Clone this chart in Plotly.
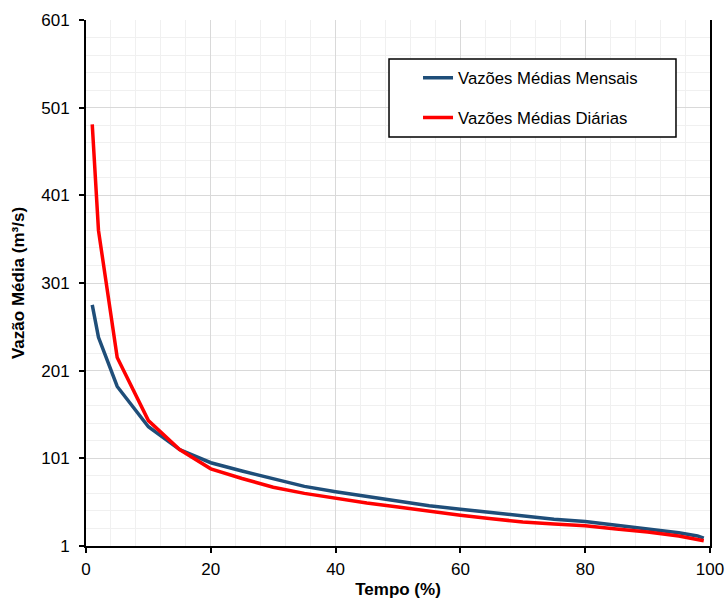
import plotly.graph_objects as go

# Curvas de permanência: tempo (%) x vazão média (m³/s)
tempo = [1, 2, 5, 10, 15, 20, 25, 30, 35, 40, 45, 50, 55, 60, 65, 70, 75, 80, 85, 90, 95, 98, 99]
vazao_mensal = [276, 239, 183, 137, 111, 96, 86.5, 78, 69, 63, 57.5, 52, 47, 43, 39, 35, 31.5, 29, 25, 21, 16, 12.5, 10]
vazao_diaria = [482, 361, 216, 144, 111, 89, 78, 68, 61, 55, 50, 45.5, 40.5, 36, 32, 28.5, 26, 24, 20.5, 17, 12.5, 9, 7]

y_ticks = [1, 101, 201, 301, 401, 501, 601]
x_ticks = [0, 20, 40, 60, 80, 100]

FONT = "Liberation Sans, Arial, sans-serif"

fig = go.Figure()
fig.add_trace(go.Scatter(
    x=tempo, y=vazao_mensal, mode="lines", name="Vazões Médias Mensais",
    line=dict(color="#1F4E79", width=3.5), legendgroup="m",
))
fig.add_trace(go.Scatter(
    x=tempo, y=vazao_diaria, mode="lines", name="Vazões Médias Diárias",
    line=dict(color="#FF0000", width=3.5), legendgroup="d",
))

# legend frame drawn as a paper-referenced rectangle
fig.add_shape(
    type="rect", xref="paper", yref="paper",
    x0=0.4856, x1=0.9455, y0=0.7776, y1=0.926,
    line=dict(color="black", width=1.5), fillcolor="white", layer="above",
)

fig.update_layout(
    width=726, height=599,
    margin=dict(l=86, r=16, t=20, b=53),
    paper_bgcolor="white", plot_bgcolor="white",
    font=dict(family=FONT, size=17, color="black"),
    showlegend=True,
    legend=dict(
        x=0.4856, y=0.923, xanchor="left", yanchor="top",
        bgcolor="rgba(0,0,0,0)", borderwidth=0,
        font=dict(size=16.7), tracegroupgap=15, indentation=29,
    ),
    xaxis=dict(
        range=[0, 100], tickvals=x_ticks, ticks="outside", ticklen=5,
        tickwidth=1.5, tickcolor="black",
        showline=True, linecolor="black", linewidth=2,
        showgrid=True, gridcolor="#D9D9D9", gridwidth=1,
        minor=dict(dtick=4, showgrid=True, gridcolor="#F0F0F0", gridwidth=1),
        title=dict(text="<b>Tempo (%)</b>", font=dict(size=17), standoff=10),
        zeroline=False, ticklabelstandoff=2, automargin=False,
    ),
    yaxis=dict(
        range=[1, 601], tickvals=y_ticks, ticks="outside", ticklen=5,
        tickwidth=1.5, tickcolor="black",
        showline=True, linecolor="black", linewidth=2, mirror=True,
        showgrid=True, gridcolor="#D9D9D9", gridwidth=1,
        minor=dict(tick0=1, dtick=20, showgrid=True, gridcolor="#F0F0F0", gridwidth=1),
        title=dict(text="<b>Vazão Média (m³/s)</b>", font=dict(size=17), standoff=12),
        zeroline=False, ticklabelstandoff=6, automargin=False,
    ),
)

fig.write_html("out.html")
